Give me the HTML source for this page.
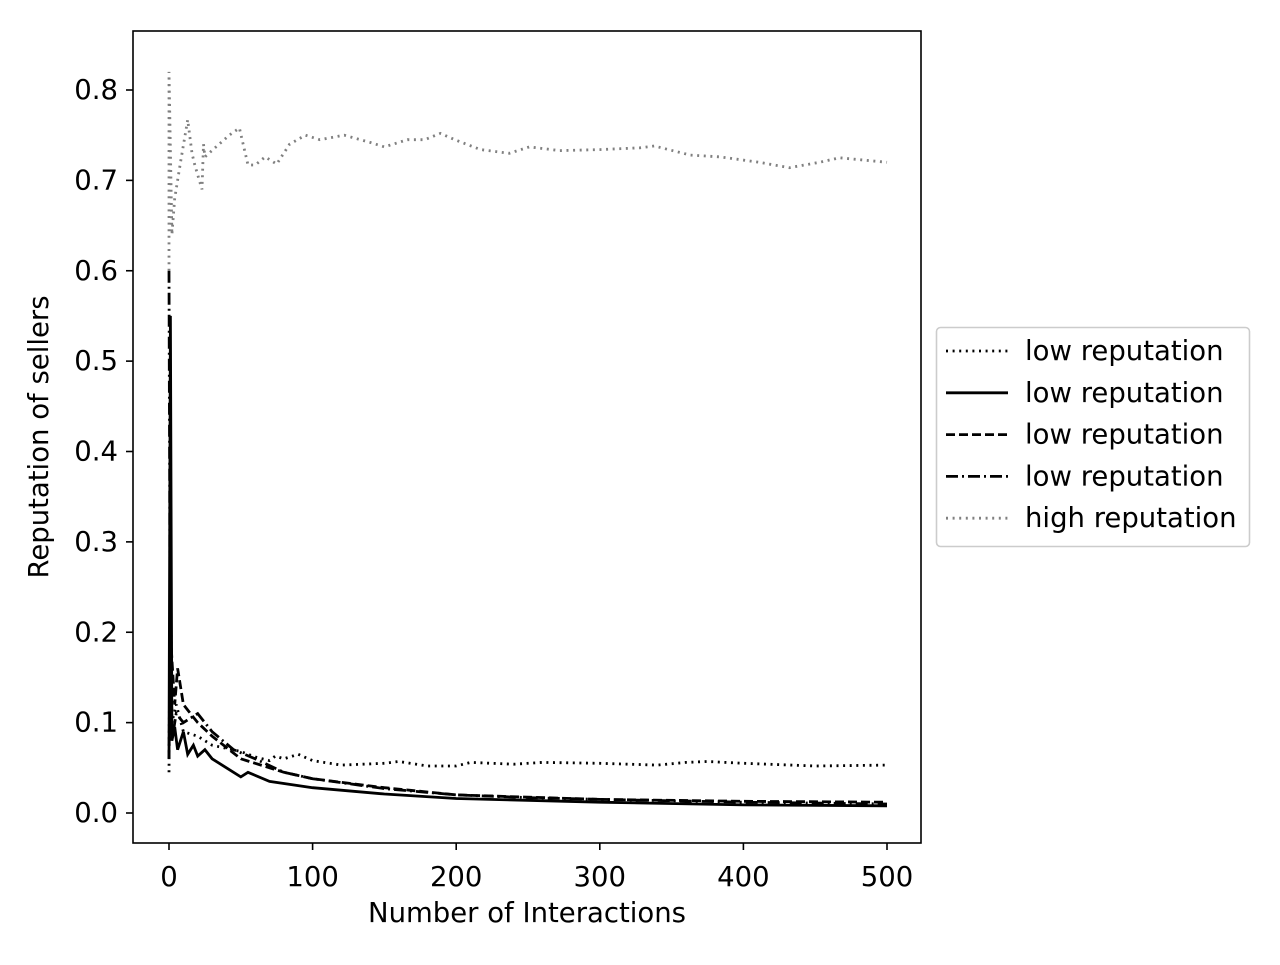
<!DOCTYPE html>
<html><head><meta charset="utf-8"><style>
html,body{margin:0;padding:0;background:#fff}
svg text{font-family:"DejaVu Sans","Liberation Sans",sans-serif;font-size:27.5px;fill:#000}
</style></head><body>
<svg id="chart" width="1280" height="960" viewBox="0 0 1280 960" xmlns="http://www.w3.org/2000/svg">
<rect width="1280" height="960" fill="#fff"/>
<g id="marks"></g>
<rect x="133" y="31" width="788" height="812" fill="none" stroke="#000" stroke-width="1.6"/>
<g id="axes"></g>
<text x="527" y="922" text-anchor="middle">Number of Interactions</text>
<text transform="translate(48,437) rotate(-90)" text-anchor="middle">Reputation of sellers</text>
<g id="legend"></g>
</svg>
<script>
const xTicks=[0,100,200,300,400,500];
const yTicks=[0.0,0.1,0.2,0.3,0.4,0.5,0.6,0.7,0.8];
const seriesNames=["low reputation","low reputation","low reputation","low reputation","high reputation"];
const lowDottedX=[0,1,2,5,10,20,30,50,60,70,74,80,90,100,120,150,160,180,200,210,240,260,300,340,360,375,400,450,500];
const lowDottedY=[0.045,0.3,0.1,0.12,0.09,0.085,0.075,0.068,0.062,0.058,0.063,0.06,0.065,0.058,0.053,0.055,0.057,0.052,0.052,0.056,0.054,0.056,0.055,0.053,0.056,0.057,0.055,0.052,0.053];
const lowSolidX=[0,1,2,4,6,10,13,17,20,25,30,40,50,55,70,100,150,200,300,400,500];
const lowSolidY=[0.06,0.55,0.08,0.095,0.07,0.09,0.065,0.075,0.063,0.07,0.06,0.05,0.04,0.045,0.035,0.028,0.021,0.016,0.012,0.009,0.008];
const lowDashedX=[0,1,2,4,6,10,15,20,30,50,60,80,100,150,200,300,400,500];
const lowDashedY=[0.06,0.2,0.17,0.12,0.16,0.12,0.11,0.1,0.085,0.06,0.055,0.045,0.038,0.028,0.02,0.015,0.013,0.012];
const lowDashDotX=[0,1,3,5,10,20,30,45,60,80,100,150,200,250,300,400,500];
const lowDashDotY=[0.6,0.1,0.09,0.11,0.1,0.11,0.09,0.07,0.06,0.045,0.038,0.027,0.02,0.017,0.015,0.012,0.01];
const highX=[0,0,2,4,8,13,16,18,23,24,25,32,42,49,55,60,67,75,84,95,105,122,140,150,166,178,189,199,217,237,251,272,300,328,338,363,384,411,432,453,467,500];
const highY=[0.60,0.82,0.64,0.68,0.72,0.767,0.73,0.717,0.69,0.74,0.726,0.736,0.75,0.758,0.717,0.717,0.726,0.718,0.74,0.75,0.745,0.75,0.742,0.737,0.745,0.745,0.752,0.745,0.734,0.73,0.737,0.733,0.734,0.736,0.738,0.728,0.726,0.72,0.714,0.72,0.725,0.72];

const NS="http://www.w3.org/2000/svg";
const xs=v=>169+v*1.436;
const ys=v=>813-v*903.75;
function mk(tag,parent){const e=document.createElementNS(NS,tag);parent.appendChild(e);return e;}
const styles=[
 {stroke:"#000",dash:"2,4.6"},
 {stroke:"#000",dash:""},
 {stroke:"#000",dash:"9,4"},
 {stroke:"#000",dash:"12,4,2,4"},
 {stroke:"#808080",dash:"2,4.6"}];
const data=[[lowDottedX,lowDottedY],[lowSolidX,lowSolidY],[lowDashedX,lowDashedY],[lowDashDotX,lowDashDotY],[highX,highY]];
const marks=document.getElementById('marks');
data.forEach((d,i)=>{
 const p=mk('path',marks);
 
 
 p.setAttribute('d',d[0].map((x,j)=>(j?'L':'M')+xs(x).toFixed(1)+','+ys(d[1][j]).toFixed(1)).join(''));
 p.setAttribute('fill','none');p.setAttribute('stroke',styles[i].stroke);p.setAttribute('stroke-width','2.8');
 if(styles[i].dash)p.setAttribute('stroke-dasharray',styles[i].dash);
});
const axes=document.getElementById('axes');
xTicks.forEach(t=>{
 const l=mk('line',axes);
 
 
 l.setAttribute('x1',xs(t));l.setAttribute('x2',xs(t));l.setAttribute('y1',843);l.setAttribute('y2',850);l.setAttribute('stroke','#000');l.setAttribute('stroke-width','1.6');
 const tx=mk('text',axes);
 
 
 tx.setAttribute('x',xs(t));tx.setAttribute('y',886);tx.setAttribute('text-anchor','middle');tx.textContent=t;
});
yTicks.forEach(t=>{
 const l=mk('line',axes);
 
 
 l.setAttribute('x1',126);l.setAttribute('x2',133);l.setAttribute('y1',ys(t));l.setAttribute('y2',ys(t));l.setAttribute('stroke','#000');l.setAttribute('stroke-width','1.6');
 const tx=mk('text',axes);
 
 
 tx.setAttribute('x',118);tx.setAttribute('y',ys(t)+9);tx.setAttribute('text-anchor','end');tx.textContent=t.toFixed(1);
});
const lg=document.getElementById('legend');
const box=mk('rect',lg);


box.setAttribute('x',936.5);box.setAttribute('y',327.5);box.setAttribute('width',313);box.setAttribute('height',219);box.setAttribute('rx',4);box.setAttribute('fill','#fff');box.setAttribute('stroke','#ccc');box.setAttribute('stroke-width','1.6');
seriesNames.forEach((n,i)=>{
 const y=351+i*41.8;
 const l=mk('line',lg);
 
 
 l.setAttribute('x1',946);l.setAttribute('x2',1008);l.setAttribute('y1',y);l.setAttribute('y2',y);l.setAttribute('stroke',styles[i].stroke);l.setAttribute('stroke-width','2.8');
 if(styles[i].dash)l.setAttribute('stroke-dasharray',styles[i].dash);
 const tx=mk('text',lg);
 
 
 tx.setAttribute('x',1025);tx.setAttribute('y',y+9);tx.textContent=n;
});
</script>
</body></html>
